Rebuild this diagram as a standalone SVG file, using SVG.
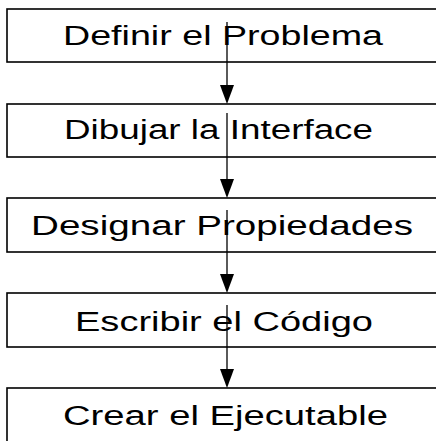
<svg xmlns="http://www.w3.org/2000/svg" width="436" height="441" viewBox="0 0 436 441">
<style>
.box{fill:#fff;stroke:#000;stroke-width:1.6}
.lbl{font-family:"Liberation Sans",Arial,sans-serif;font-size:27px;fill:#000}
.edge{stroke:#000;stroke-width:1.3;fill:none}
.head{fill:#000}
</style>
<rect width="436" height="441" fill="#fff"/>
<g id="n1"><rect class="box" x="7" y="9" width="440" height="53"/><text class="lbl" x="63" y="45" textLength="320" lengthAdjust="spacingAndGlyphs">Definir el Problema</text></g>
<g id="n2"><rect class="box" x="7" y="104" width="440" height="53"/><text class="lbl" x="64" y="139" textLength="309" lengthAdjust="spacingAndGlyphs">Dibujar la Interface</text></g>
<g id="n3"><rect class="box" x="7" y="198" width="440" height="54"/><text class="lbl" x="31" y="235" textLength="382" lengthAdjust="spacingAndGlyphs">Designar Propiedades</text></g>
<g id="n4"><rect class="box" x="7" y="293" width="440" height="54"/><text class="lbl" x="75" y="331" textLength="298" lengthAdjust="spacingAndGlyphs">Escribir el Código</text></g>
<g id="n5"><rect class="box" x="7" y="388" width="440" height="70"/><text class="lbl" x="63" y="425" textLength="325" lengthAdjust="spacingAndGlyphs">Crear el Ejecutable</text></g>
<g id="connectors">
<line class="edge" x1="227" y1="22" x2="227" y2="90"/><polygon class="head" points="220,85 234,85 227,104"/>
<line class="edge" x1="227" y1="113" x2="227" y2="184"/><polygon class="head" points="220,179 234,179 227,198"/>
<line class="edge" x1="227" y1="210" x2="227" y2="279"/><polygon class="head" points="220,274 234,274 227,293"/>
<line class="edge" x1="227" y1="305" x2="227" y2="374"/><polygon class="head" points="220,369 234,369 227,388"/>
</g>
</svg>
